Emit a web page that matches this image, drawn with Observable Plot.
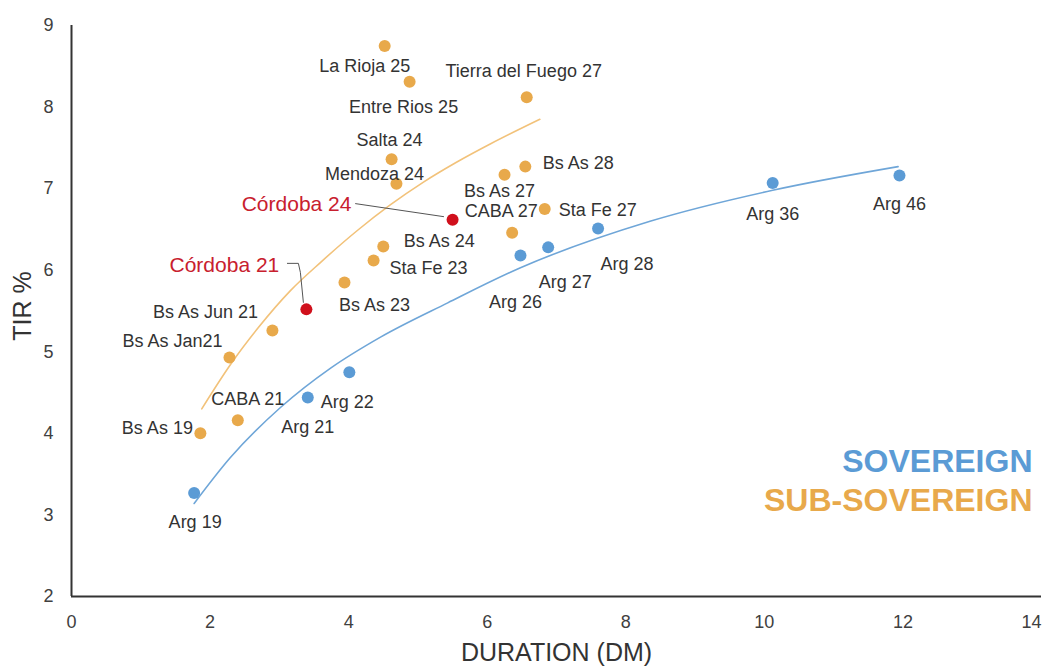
<!DOCTYPE html>
<html>
<head>
<meta charset="utf-8">
<script src="https://cdn.jsdelivr.net/npm/d3@7"></script>
<script src="https://cdn.jsdelivr.net/npm/@observablehq/plot@0.6"></script>
<style>
  body { margin: 0; background: #fff; }
  #chart svg { display: block; }
</style>
</head>
<body>
<div id="chart"></div>
<script>
// ---- Data ----
const subNames    = ["La Rioja 25","Entre Rios 25","Tierra del Fuego 27","Salta 24","Mendoza 24","Bs As 28","Bs As 27","Sta Fe 27","CABA 27","Bs As 24","Sta Fe 23","Bs As 23","Bs As Jun 21","Bs As Jan21","CABA 21","Bs As 19"];
const subDuration = [4.52, 4.88, 6.57, 4.62, 4.69, 6.55, 6.25, 6.83, 6.36, 4.50, 4.36, 3.94, 2.90, 2.28, 2.40, 1.86];
const subTir      = [8.75, 8.31, 8.12, 7.36, 7.06, 7.27, 7.17, 6.75, 6.46, 6.29, 6.12, 5.85, 5.26, 4.93, 4.16, 4.00];

const sovNames    = ["Arg 19","Arg 21","Arg 22","Arg 26","Arg 27","Arg 28","Arg 36","Arg 46"];
const sovDuration = [1.77, 3.41, 4.01, 6.48, 6.88, 7.60, 10.12, 11.95];
const sovTir      = [3.27, 4.44, 4.75, 6.18, 6.28, 6.51, 7.07, 7.16];

const cordobaNames    = ["Córdoba 24","Córdoba 21"];
const cordobaDuration = [5.50, 3.39];
const cordobaTir      = [6.62, 5.52];

// trend curves, points
const sovTrendDuration = [1.77, 2.29, 3.02, 3.74, 4.46, 5.43, 6.48, 8.35, 10.12, 11.93];
const sovTrendTir      = [3.14, 3.70, 4.32, 4.80, 5.18, 5.60, 6.03, 6.60, 6.98, 7.27];
const subTrendDuration = [1.88, 2.30, 2.70, 3.16, 3.60, 4.13, 4.60, 5.08, 5.55, 6.05, 6.76];
const subTrendTir      = [4.30, 4.85, 5.30, 5.75, 6.10, 6.49, 6.80, 7.08, 7.32, 7.55, 7.85];

const xTicks = [0, 2, 4, 6, 8, 10, 12, 14];
const yTicks = [2, 3, 4, 5, 6, 7, 8, 9];
const legendLabels = ["SOVEREIGN", "SUB-SOVEREIGN"];
const xLabel = "DURATION (DM)";
const yLabel = "TIR %";

// ---- Layout (pixel offsets of labels relative to their dot) ----
const labelOffset = {
  "La Rioja 25": [-20, 20], "Entre Rios 25": [-6, 25], "Tierra del Fuego 27": [-3, -26],
  "Salta 24": [-2, -19], "Mendoza 24": [-22, -10], "Bs As 28": [53, -3], "Bs As 27": [-5, 16],
  "Sta Fe 27": [53, 1], "CABA 27": [-11, -21], "Bs As 24": [56, -5], "Sta Fe 23": [55, 8],
  "Bs As 23": [30, 23], "Bs As Jun 21": [-67, -18], "Bs As Jan21": [-57, -16], "CABA 21": [10, -21],
  "Bs As 19": [-43, -5],
  "Arg 19": [1, 29], "Arg 21": [0, 30], "Arg 22": [-2, 30], "Arg 26": [-5, 47], "Arg 27": [17, 35],
  "Arg 28": [29, 36], "Arg 36": [0, 31], "Arg 46": [0, 29],
  "Córdoba 24": [-156, -15], "Córdoba 21": [-82, -44]
};
const leaderOffsets = {
  "Córdoba 24": [[-97, -16], [-9, -3]],
  "Córdoba 21": [[-19, -46], [-8, -46], [-6, -37], [-3, -7]]
};

const W = 1043, H = 666, ML = 71, MR = 2, MT = 25, MB = 70;
const BLUE = "#5b9bd5", ORANGE = "#e8a94b", RED = "#d0101c", RED_TEXT = "#c8202e";
const FONT = "'Liberation Sans', Arial, Helvetica, sans-serif";

const zip = (names, xs, ys, group) => names.map((n, i) => ({name: n, x: xs[i], y: ys[i], group}));
const sub = zip(subNames, subDuration, subTir, "sub");
const sov = zip(sovNames, sovDuration, sovTir, "sov");
const cor = zip(cordobaNames, cordobaDuration, cordobaTir, "cor");
const sovTrend = sovTrendDuration.map((d, i) => ({x: d, y: sovTrendTir[i]}));
const subTrend = subTrendDuration.map((d, i) => ({x: d, y: subTrendTir[i]}));

// mirror of the plot's scales, used only to turn pixel leader offsets into data units
const xs = d3.scaleLinear([0, 14], [ML, W - MR]);
const ys = d3.scaleLinear([2, 9], [H - MB, MT]);
const leaders = cor.flatMap(c =>
  leaderOffsets[c.name].map(([dx, dy]) => ({name: c.name, x: xs.invert(xs(c.x) + dx), y: ys.invert(ys(c.y) + dy)}))
);

const labelMarks = [...sub, ...sov, ...cor].map(d => {
  const [dx, dy] = labelOffset[d.name];
  const isCor = d.group === "cor";
  return Plot.text([d], {
    x: "x", y: "y", text: "name", dx, dy,
    fontSize: isCor ? 21 : 18, fill: isCor ? RED_TEXT : "#333",
    textAnchor: "middle", lineAnchor: "middle", fontFamily: FONT
  });
});

const chart = Plot.plot({
  width: W, height: H,
  marginLeft: ML, marginRight: MR, marginTop: MT, marginBottom: MB,
  style: {fontFamily: FONT, background: "#fff", color: "#404040"},
  x: {domain: [0, 14]},
  y: {domain: [2, 9]},
  marks: [
    Plot.axisX(xTicks.slice(0, -1), {tickSize: 0, tickPadding: 19, fontSize: 18, label: null, tickFormat: d3.format("d")}),
    Plot.axisX(xTicks.slice(-1), {tickSize: 0, tickPadding: 19, fontSize: 18, label: null, tickFormat: d3.format("d"), dx: -10}),
    Plot.axisY(yTicks, {tickSize: 0, tickPadding: 18, fontSize: 18, label: null, tickFormat: d3.format("d")}),
    Plot.line(subTrend, {x: "x", y: "y", stroke: "#f2c27a", strokeWidth: 1.6, curve: "monotone-x"}),
    Plot.line(sovTrend, {x: "x", y: "y", stroke: "#6fa6d8", strokeWidth: 1.6, curve: "monotone-x"}),
    Plot.line(leaders, {x: "x", y: "y", z: "name", stroke: "#555", strokeWidth: 1}),
    Plot.dot(sub, {x: "x", y: "y", r: 6, fill: ORANGE}),
    Plot.dot(sov, {x: "x", y: "y", r: 6, fill: BLUE}),
    Plot.dot(cor, {x: "x", y: "y", r: 6, fill: RED}),
    ...labelMarks,
    Plot.ruleX([0], {stroke: "#333", strokeWidth: 2}),
    Plot.ruleY([2], {stroke: "#333", strokeWidth: 2}),
    Plot.text([yLabel], {frameAnchor: "left", dx: -49, dy: -5, rotate: -90, textAnchor: "middle", lineAnchor: "middle", fontSize: 25, fill: "#333", fontFamily: FONT}),
    Plot.text([xLabel], {frameAnchor: "bottom", dy: 56, textAnchor: "middle", lineAnchor: "middle", fontSize: 25, fill: "#333", fontFamily: FONT}),
    Plot.text([legendLabels[0]], {frameAnchor: "bottom-right", dx: -9, dy: -135, textAnchor: "end", lineAnchor: "middle", fontSize: 32, fontWeight: "bold", fill: BLUE, fontFamily: FONT}),
    Plot.text([legendLabels[1]], {frameAnchor: "bottom-right", dx: -9, dy: -96, textAnchor: "end", lineAnchor: "middle", fontSize: 32, fontWeight: "bold", fill: ORANGE, fontFamily: FONT})
  ]
});
document.getElementById("chart").appendChild(chart);
</script>
</body>
</html>
